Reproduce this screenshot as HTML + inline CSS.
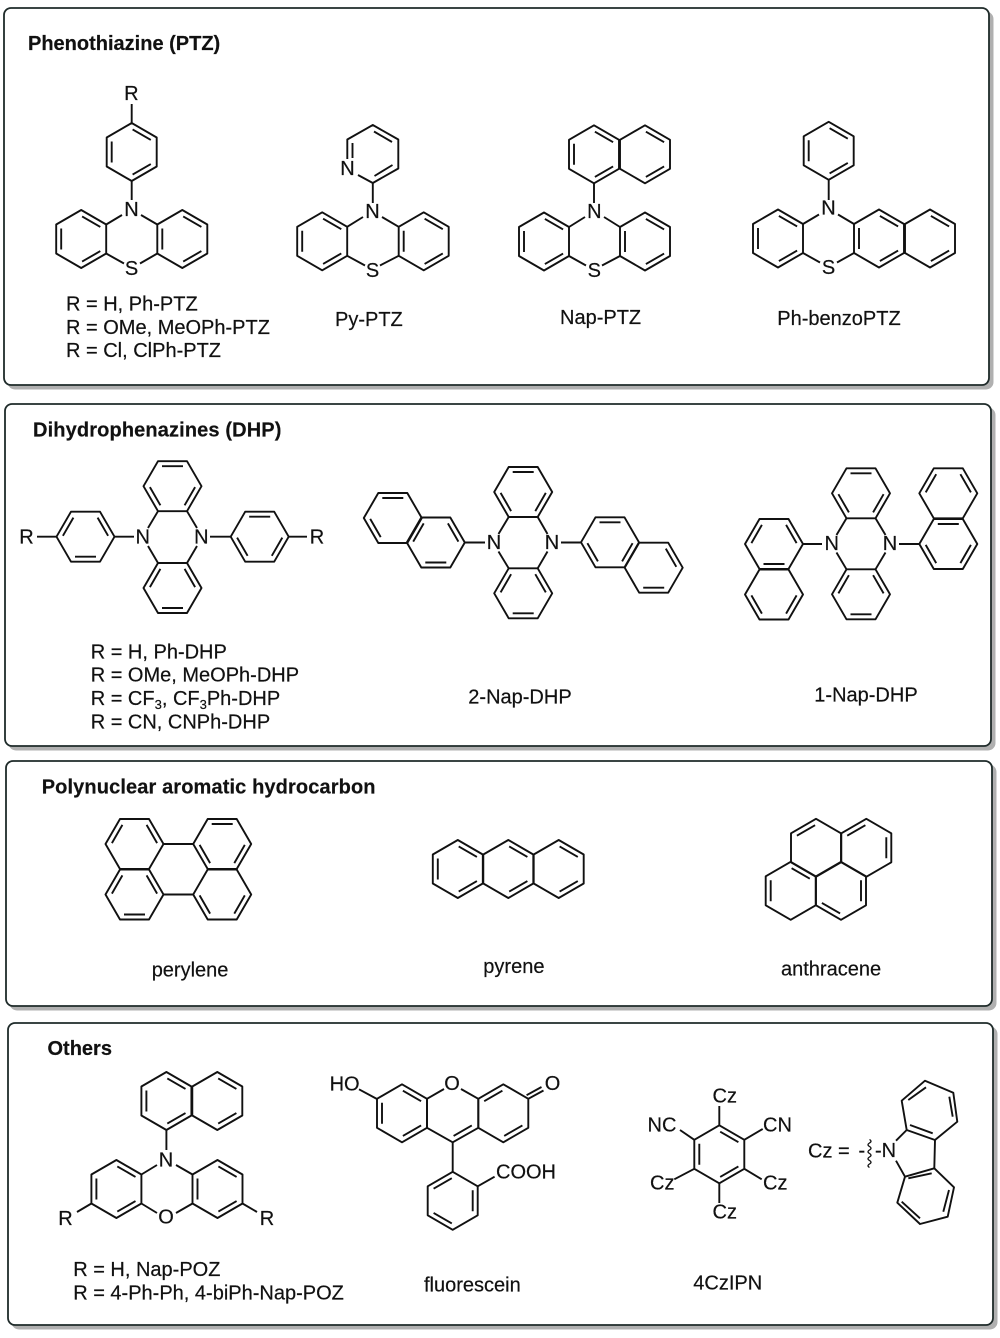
<!DOCTYPE html>
<html><head><meta charset="utf-8"><title>Organic photocatalysts</title>
<style>
html,body{margin:0;padding:0;background:#fff}
svg{display:block}
text{font-family:"Liberation Sans",Arial,sans-serif;fill:#111;stroke:#111;stroke-width:.2}
.t{font-size:20px;font-weight:bold}
.l{font-size:20px}
.a{font-size:20px;text-anchor:middle}
.s{font-size:20px}
.m path,.m use{fill:none;stroke:#111;stroke-width:1.9;stroke-linejoin:round}
.sh{fill:#b0b0b0;stroke:#b0b0b0;stroke-width:1}
.bx{fill:#fff;stroke:#1f2b2a;stroke-width:1.8}
</style></head><body>
<svg xmlns="http://www.w3.org/2000/svg" width="1000" height="1338" viewBox="0 0 1000 1338">
<defs>
<path id="pace" d="M0-29L25-14.5V14.5L0 29L-25 14.5V-14.5ZM.9-22.6L19.1-12.1M19.1 12.1L.9 22.6M-20 10.5V-10.5"/>
<path id="pac" d="M0-29L25-14.5V14.5L0 29L-25 14.5V-14.5ZM.9-22.6L19.1-12.1M19.1 12.1L.9 22.6"/>
<path id="ftll" d="M-29 0L-14.5-25H14.5L29 0L14.5 25H-14.5ZM-10.5-20H10.5M22.6 .9L12.1 19.1M-12.1 19.1L-22.6 .9"/>
<path id="fbuu" d="M-29 0L-14.5-25H14.5L29 0L14.5 25H-14.5ZM10.5 20H-10.5M-22.6-.9L-12.1-19.1M12.1-19.1L22.6-.9"/>
<path id="fll" d="M-29 0L-14.5-25H14.5L29 0L14.5 25H-14.5ZM22.6 .9L12.1 19.1M-12.1 19.1L-22.6 .9"/>
<path id="fuu" d="M-29 0L-14.5-25H14.5L29 0L14.5 25H-14.5ZM-22.6-.9L-12.1-19.1M12.1-19.1L22.6-.9"/>
</defs>

<!-- panels -->
<rect class="sh" x="8" y="12" width="985" height="377" rx="7"/>
<rect class="bx" x="4" y="8" width="985" height="377" rx="7"/>
<rect class="sh" x="9" y="408" width="986" height="342" rx="7"/>
<rect class="bx" x="5" y="404" width="986" height="342" rx="7"/>
<rect class="sh" x="10" y="765" width="986" height="245" rx="7"/>
<rect class="bx" x="6" y="761" width="986" height="245" rx="7"/>
<rect class="sh" x="12" y="1027" width="985" height="302" rx="7"/>
<rect class="bx" x="8" y="1023" width="985" height="302" rx="7"/>

<text class="t" x="28" y="50">Phenothiazine (PTZ)</text>
<text class="t" x="33" y="436.7" letter-spacing=".13">Dihydrophenazines (DHP)</text>
<text class="t" x="41.7" y="793.3" letter-spacing=".12">Polynuclear aromatic hydrocarbon</text>
<text class="t" x="47.5" y="1055">Others</text>

<g class="m">
<!-- Ph-PTZ -->
<use href="#pace" x="131.7" y="152"/><use href="#pace" x="81.2" y="239"/><use href="#pace" x="182.3" y="239"/>
<path d="M131.7 104V123M131.7 181V200M106.2 224.5L122 215M141 215L157.3 224.5M106.2 253.5L124 263.5M140 263.5L157.3 253.5"/>
<!-- Py-PTZ -->
<path d="M358 175L372.8 183L398.3 168.5V139.5L372.8 125L347.3 139.5V159M352.5 143V158M374 131.5L392 142M392.5 165L374.5 176"/>
<use href="#pace" x="322.2" y="241.3"/><use href="#pace" x="423.7" y="241.3"/>
<path d="M372.8 183V203M347.2 226.8L363 217M382 217L398.7 226.8M347.2 255.8L365 265.5M380 265.5L398.7 255.8"/>
<!-- Nap-PTZ -->
<use href="#pace" x="594" y="154.3"/><use href="#pac" x="645" y="154.3"/>
<use href="#pace" x="544" y="241.5"/><use href="#pace" x="645" y="241.5"/>
<path d="M594 183.3V203M569 227L585 217M604 217L620 227M569 256L586 265.5M602 265.5L620 256"/>
<!-- Ph-benzoPTZ -->
<use href="#pace" x="828.7" y="150.8"/><use href="#pace" x="778" y="238.5"/><use href="#pace" x="879" y="238.5"/><use href="#pac" x="930" y="238.5"/>
<path d="M828.7 180V200M803 224L819 214.5M838 214.5L854 224M803 253L820 262.5M837 262.5L854 253"/>

<!-- Ph-DHP -->
<use href="#ftll" x="172.5" y="486.2"/><use href="#fbuu" x="172.5" y="588"/>
<use href="#fbuu" x="85.5" y="536.7"/><use href="#ftll" x="259.7" y="536.7"/>
<path d="M37 536.7H56.5M114.5 536.7H134M210 536.7H230.7M288.7 536.7H307M158 511.2L148 528M187 511.2L197 528M158 563L148 546M187 563L197 546"/>
<!-- 2-Nap-DHP -->
<path transform="translate(392.8 518)" d="M-29 0L-14.5-25H14.5L29 0L14.5 25H-14.5ZM-10.5-20H10.5M-12.1 19.1L-22.6 .9"/>
<use href="#fbuu" x="435.8" y="542.5"/>
<use href="#ftll" x="523.2" y="492"/><use href="#fbuu" x="523.2" y="593.3"/>
<use href="#ftll" x="610" y="542.3"/>
<path transform="translate(653.7 567.7)" d="M-29 0L-14.5-25H14.5L29 0L14.5 25H-14.5ZM10.5 20H-10.5M12.1-19.1L22.6-.9"/>
<path d="M464.8 542.5H485M561 542.5H581M508.7 517L498.5 534M537.7 517L547.5 534M508.7 568.3L498.5 551.5M537.7 568.3L547.5 551.5"/>
<!-- 1-Nap-DHP -->
<use href="#ftll" x="861" y="493.3"/><use href="#fbuu" x="861" y="594.3"/>
<use href="#fbuu" x="774" y="544"/><use href="#fll" x="774" y="594.5"/>
<use href="#fuu" x="948.3" y="493.3"/><use href="#ftll" x="948.3" y="544"/>
<path d="M803 544H822M899 544H919.3M846.5 518.3L836.5 535M875.5 518.3L885.5 535M846.5 569.3L836.5 552.5M875.5 569.3L885.5 552.5"/>

<!-- perylene -->
<use href="#fuu" x="134.5" y="844"/><use href="#fbuu" x="134.5" y="894.5"/>
<use href="#ftll" x="222.2" y="844"/><use href="#fll" x="222.2" y="894.5"/>
<path d="M163.5 844H193.2M163.5 894.5H193.2"/>
<!-- "pyrene" panel structure -->
<use href="#pace" x="457.8" y="869"/><use href="#pac" x="508.3" y="869"/><use href="#pac" x="558.7" y="869"/>
<!-- "anthracene" panel structure -->
<path transform="translate(816 847.8)" d="M0-29L25-14.5V14.5L0 29L-25 14.5V-14.5ZM-19.1-12.1L-.9-22.6"/>
<path transform="translate(866.3 847.8)" d="M0-29L25-14.5V14.5L0 29L-25 14.5V-14.5ZM-19.1-12.1L-.9-22.6M20-10.5V10.5"/>
<path transform="translate(790.7 890.8)" d="M0-29L25-14.5V14.5L0 29L-25 14.5V-14.5ZM.9-22.6L19.1-12.1M-20 10.5V-10.5"/>
<path transform="translate(841 890.8)" d="M0-29L25-14.5V14.5L0 29L-25 14.5V-14.5ZM20-10.5V10.5M-.9 22.6L-19.1 12.1"/>

<!-- Nap-POZ -->
<use href="#pace" x="166.4" y="1101"/><use href="#pac" x="217.3" y="1101"/>
<use href="#pace" x="116.4" y="1189"/><use href="#pace" x="217.5" y="1189"/>
<path d="M166.4 1130V1150M141.4 1174.5L157 1165M176 1165L192.5 1174.5M141.4 1203.5L157 1213M176 1213L192.5 1203.5M91.4 1203.5L77 1212M242.5 1203.5L257 1212"/>
<!-- fluorescein -->
<use href="#pace" x="402" y="1113.3"/>
<path d="M427 1127.8L452.7 1142.3L478.3 1127.8M427 1098.8V1127.8M478.3 1098.8V1127.8M427 1098.8L444 1089M461 1089L478.3 1098.8M471.8 1125.4L453.6 1135.9"/>
<path transform="translate(503.3 1113.3)" d="M0-29L25-14.5V14.5L0 29L-25 14.5V-14.5ZM-19.1-12.1L-.9-22.6M19.1 12.1L.9 22.6"/>
<path transform="translate(452.7 1200.8)" d="M0-29L25-14.5V14.5L0 29L-25 14.5V-14.5ZM-19.1-12.1L-.9-22.6M20-10.5V10.5M-.9 22.6L-19.1 12.1"/>
<path d="M359 1089.3L377 1099M452.7 1142.3V1171.8M477.7 1186.3L494.6 1176.7M528.3 1098.8L543.5 1090.5M526.6 1095.2L541.5 1087"/>
<!-- 4CzIPN -->
<use href="#pace" x="719.3" y="1154.3"/>
<path d="M719.3 1125.3V1106M694.3 1139.8L680 1130M744.3 1139.8L762.7 1129M694.3 1168.8L674.3 1179.3M744.3 1168.8L761.7 1179.3M719.3 1183.3V1203"/>
<!-- wavy bond -->
<path style="stroke-width:1.3" d="M869.5 1139.5q3 1.75 0 3.5t0 3.5t0 3.5t0 3.5t0 3.5t0 3.5t0 3.5t0 3.5"/>
<!-- carbazole -->
<path d="M925 1080.7L953.3 1092.7L957.3 1121.7L935 1140L906.7 1130L901.7 1100.7ZM908.3 1100L926 1087.3M949.3 1096.7L952.7 1116.7M910 1125L932.7 1133.3"/>
<path d="M934.3 1168.3L954 1187.3L947.7 1216.7L920 1224L897.3 1202.7L905 1176.7ZM908.3 1178.3L931.7 1173.3M949 1190L943.3 1211.7M901.7 1201.7L920 1218.3"/>
<path d="M896 1140.7L906.7 1130M896 1160.7L905 1176.7M935 1140L934.3 1168.3"/>
</g>

<!-- atom labels -->
<text class="a" x="131.3" y="100">R</text>
<text class="a" x="131.5" y="216">N</text>
<text class="a" x="131.5" y="275">S</text>
<text class="a" x="347.5" y="175">N</text>
<text class="a" x="372.5" y="218">N</text>
<text class="a" x="372.5" y="277">S</text>
<text class="a" x="594.3" y="218">N</text>
<text class="a" x="594.3" y="277">S</text>
<text class="a" x="828.5" y="214.5">N</text>
<text class="a" x="828.5" y="274">S</text>

<text class="a" x="26.5" y="543.5">R</text>
<text class="a" x="142.7" y="543.5">N</text>
<text class="a" x="201.3" y="543.5">N</text>
<text class="a" x="317" y="543.5">R</text>
<text class="a" x="494" y="549">N</text>
<text class="a" x="552" y="549">N</text>
<text class="a" x="831.7" y="550">N</text>
<text class="a" x="890" y="550">N</text>

<text class="a" x="166" y="1166.7">N</text>
<text class="a" x="166" y="1223.3">O</text>
<text class="a" x="65.5" y="1225">R</text>
<text class="a" x="267" y="1225">R</text>
<text class="s" x="329.6" y="1090.7">HO</text>
<text class="a" x="452" y="1090">O</text>
<text class="a" x="552.5" y="1090">O</text>
<text class="s" x="496" y="1178.3">COOH</text>

<text class="s" x="712.5" y="1102.7">Cz</text>
<text class="s" x="647.5" y="1131.7">NC</text>
<text class="s" x="763" y="1131.7">CN</text>
<text class="s" x="650" y="1189.3">Cz</text>
<text class="s" x="763" y="1189.3">Cz</text>
<text class="s" x="712.5" y="1218.3">Cz</text>
<text class="s" x="808" y="1157.3">Cz =</text>
<text class="s" x="858.5" y="1157">-</text>
<text class="s" x="875" y="1157">-N</text>

<!-- compound labels -->
<text class="l" x="66" y="310.7">R = H, Ph-PTZ</text>
<text class="l" x="66" y="334">R = OMe, MeOPh-PTZ</text>
<text class="l" x="66" y="357">R = Cl, ClPh-PTZ</text>
<text class="l" x="335" y="326">Py-PTZ</text>
<text class="l" x="560" y="324">Nap-PTZ</text>
<text class="l" x="777.3" y="325">Ph-benzoPTZ</text>

<text class="l" x="90.7" y="658.3">R = H, Ph-DHP</text>
<text class="l" x="90.7" y="681.7">R = OMe, MeOPh-DHP</text>
<text class="l" x="90.7" y="705">R = CF<tspan font-size="13" dy="4">3</tspan><tspan dy="-4">, CF</tspan><tspan font-size="13" dy="4">3</tspan><tspan dy="-4">Ph-DHP</tspan></text>
<text class="l" x="90.7" y="728.3">R = CN, CNPh-DHP</text>
<text class="l" x="468.3" y="703.3">2-Nap-DHP</text>
<text class="l" x="814.3" y="701.7">1-Nap-DHP</text>

<text class="l" x="151.7" y="976.7">perylene</text>
<text class="l" x="483.3" y="973">pyrene</text>
<text class="l" x="781" y="975.7">anthracene</text>

<text class="l" x="73.2" y="1276">R = H, Nap-POZ</text>
<text class="l" x="73.2" y="1299.3">R = 4-Ph-Ph, 4-biPh-Nap-POZ</text>
<text class="l" x="424" y="1291.7">fluorescein</text>
<text class="l" x="693.3" y="1289.3">4CzIPN</text>
</svg>
</body></html>
